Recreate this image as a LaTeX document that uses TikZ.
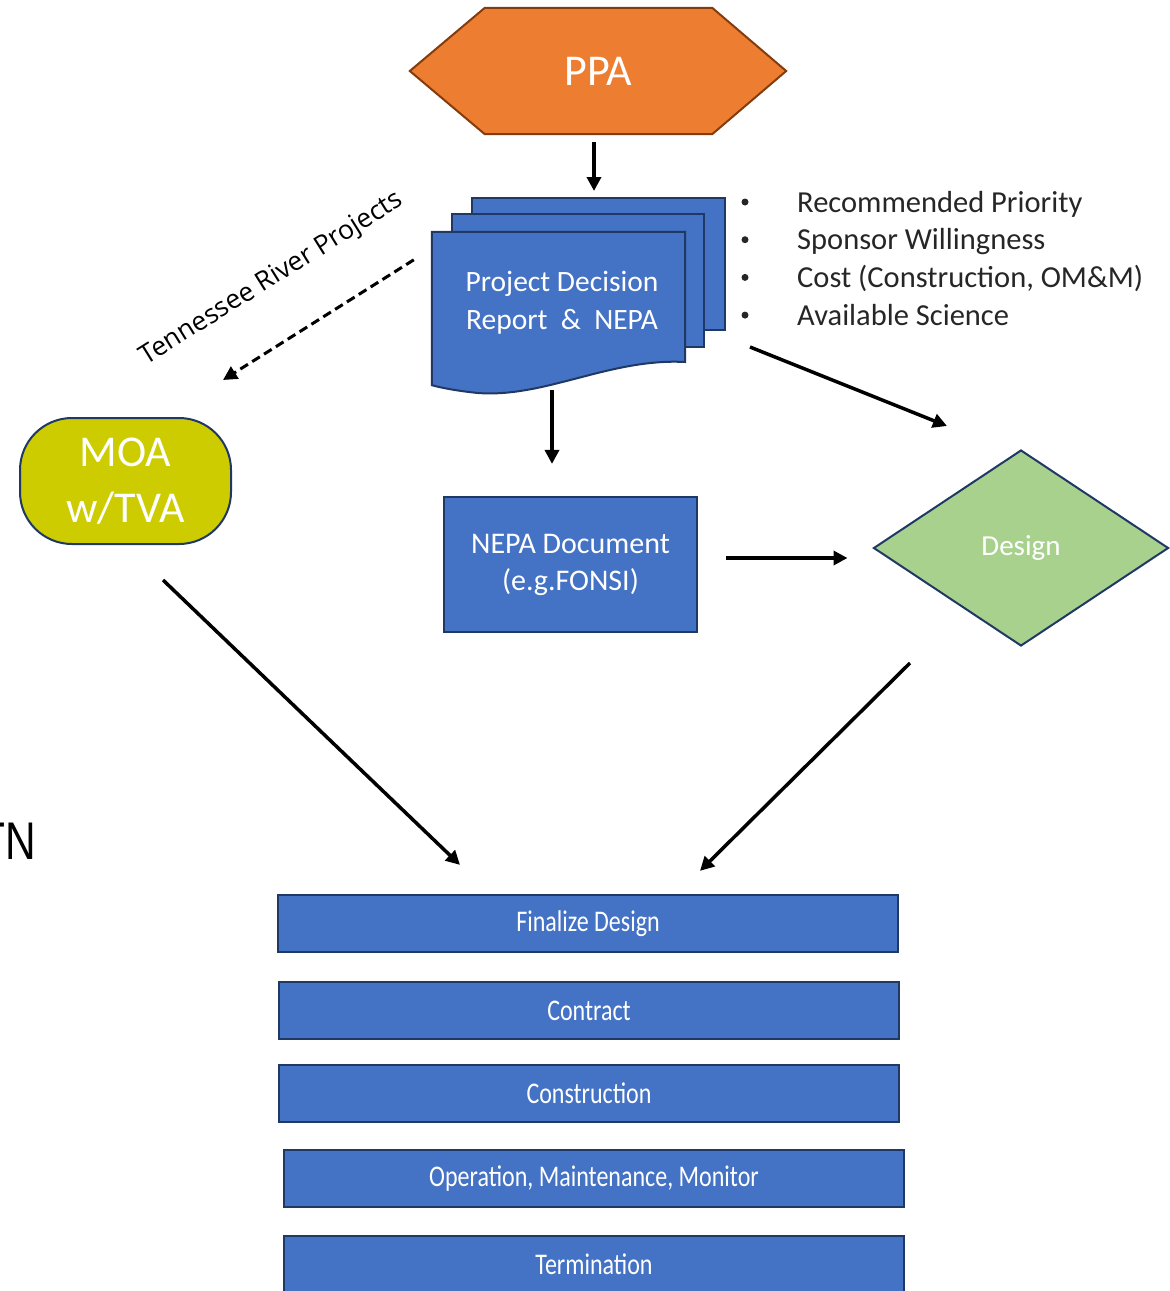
\documentclass[tikz,border=0pt]{standalone}
\usepackage{fontspec}
\setmainfont{Carlito}
\newfontfamily\osans{Open Sans}
\newfontfamily\arialf[FakeStretch=0.8]{Liberation Sans}
\newfontfamily\condf[FakeStretch=0.8]{Carlito}
\usetikzlibrary{arrows.meta,calc,shapes.geometric}
\definecolor{orangef}{HTML}{ED7D31}
\definecolor{orangeb}{HTML}{843C0C}
\definecolor{bluef}{HTML}{4472C4}
\definecolor{navy}{HTML}{203864}
\definecolor{olivef}{HTML}{CCCC00}
\definecolor{greenf}{HTML}{A9D18E}
\definecolor{txtgray}{HTML}{262626}
\begin{document}
\begin{tikzpicture}[x=1pt,y=-1pt,
  arr/.style={line width=3.5pt,-{Triangle[length=14pt,width=14pt]}},
  dasharr/.style={line width=3pt,dash pattern=on 9pt off 5pt,-{Triangle[length=14pt,width=14pt]}},
  stepbox/.style={draw=navy,fill=bluef,line width=2.2pt,minimum width=620pt,minimum height=57pt,
     text=white,font=\condf\fontsize{30}{34}\selectfont,inner sep=0pt},
  page/.style={draw=navy,fill=bluef,line width=2pt},
  bul/.style={anchor=base west,inner sep=0pt,text=txtgray,font=\fontsize{30.5}{34}\selectfont},
  dot/.style={circle,fill=txtgray,inner sep=0pt,minimum size=7pt}
]
\path[use as bounding box,clip] (0,0) rectangle (1170,1291);

% PPA hexagon
\node[minimum width=227pt,minimum height=126pt,inner sep=0pt] (ppa) at (598.5,71) {};
\draw[fill=orangef,draw=orangeb,line width=2pt]
  (ppa.north west) -- (ppa.north east) -- ($(ppa.east)+(74,0)$) -- (ppa.south east)
  -- (ppa.south west) -- ($(ppa.west)+(-75,0)$) -- cycle;
\node[text=white,font=\fontsize{44}{50}\selectfont] at (ppa.center) {PPA};

% document stack
\node[page,minimum width=253pt,minimum height=132pt,inner sep=0pt] (docback) at (598.5,264) {};
\node[page,minimum width=252pt,minimum height=133pt,inner sep=0pt] (docmid) at (578,280.5) {};
\node[minimum width=253pt,minimum height=153pt,inner sep=0pt] (doc) at (558.5,308.5) {};
\draw[page] (doc.north west) -- (doc.north east) -- (685,362)
   .. controls (610,358) and (545,398) .. (478,393)
   .. controls (458,391) and (442,388) .. (doc.south west) -- cycle;
\node[text=white,align=center,font=\fontsize{29.5}{38}\selectfont] at (562,303)
  {Project Decision\\Report\ \ \&\ \ NEPA};

% bullets
\foreach \t [count=\i] in {Recommended Priority,Sponsor Willingness,{Cost (Construction, OM\&M)},Available Science}{
  \node[bul] (b\i) at (797,{212+37.7*(\i-1)}) {\t};
  \node[dot] at (745,{202+37.7*(\i-1)}) {};
}

% NEPA document
\node[draw=navy,fill=bluef,line width=2.2pt,minimum width=253pt,minimum height=135pt,inner sep=0pt,
      text=white,align=center,font=\fontsize{30}{37}\selectfont] (nepa) at (570.5,564.5)
  {NEPA Document\\(e.g.FONSI)};

% Design diamond
\node[diamond,draw=navy,fill=greenf,line width=2pt,minimum width=295pt,minimum height=196pt,
      inner sep=0pt,text=white,font=\fontsize{29}{34}\selectfont] (design) at (1021,548) {Design};

% MOA
\node[draw=navy,fill=olivef,line width=2pt,rounded corners=52pt,minimum width=211pt,minimum height=126pt,
      inner sep=0pt,text=white,align=center,font=\fontsize{44}{56}\selectfont] (moa) at (125.5,481)
  {MOA\\w/TVA};

% TN
\node[anchor=base east,inner sep=0pt,font=\arialf\fontsize{53}{60}\selectfont] (tn) at (36,859) {TN};

% bottom steps
\node[stepbox] (fin)  at (588,923.5)  {Finalize Design};
\node[stepbox] (con)  at (589,1010.5) {Contract};
\node[stepbox] (cons) at (589,1093.5) {Construction};
\node[stepbox] (omm)  at (594,1178.5) {Operation, Maintenance, Monitor};
\node[stepbox] (term) at (594,1264.5) {Termination};

% connectors
\draw[arr] ($(ppa.south)+(-4.5,8)$) -- ($(docback.north)+(-4.5,-6)$);
\draw[arr] ($(doc.south)+(-6.5,5)$) -- ($(nepa.north)+(-18.5,-32)$);
\draw[arr] ($(docback.south east)+(24,16)$) -- ($(design.north)+(-74,-23)$);
\draw[arr] ($(nepa.east)+(28,-6.5)$) -- ($(design.west)+(-25,10)$);
\draw[arr] ($(moa.south)+(37.5,35)$) -- ($(fin.north)+(-128,-29)$);
\draw[arr] ($(design.south)+(-111,16)$) -- ($(fin.north)+(112,-23)$);
\draw[dasharr] ($(doc.north west)+(-18,28)$) -- ($(moa.north east)+(-9,-37)$);
\node[rotate=32,inner sep=0pt,font=\osans\fontsize{26.5}{30}\selectfont,text=black] (trp) at (272,279)
  {Tennessee River Projects};
\end{tikzpicture}
\end{document}
